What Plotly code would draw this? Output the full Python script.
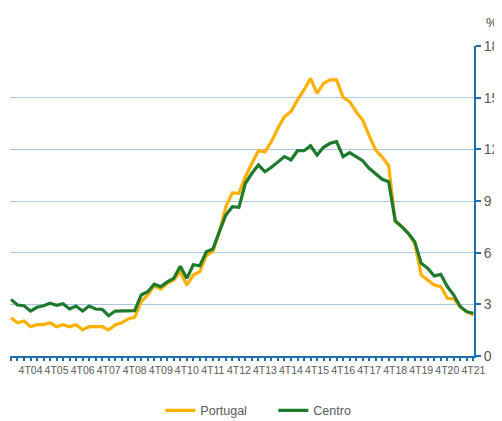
import plotly.graph_objects as go

# quarters 1T04 .. 4T21
years = [f"{y:02d}" for y in range(4, 22)]
quarters = [f"{q}T{y}" for y in years for q in range(1, 5)]

portugal = [2.22, 1.93, 2.03, 1.70, 1.82, 1.82, 1.93, 1.70, 1.82, 1.70,
            1.82, 1.53, 1.70, 1.70, 1.70, 1.51, 1.80, 1.93, 2.15, 2.25,
            3.15, 3.54, 4.07, 3.89, 4.22, 4.41, 4.90, 4.12, 4.70, 4.90,
            5.85, 6.06, 7.22, 8.67, 9.47, 9.45, 10.41, 11.19, 11.92, 11.85,
            12.45, 13.22, 13.90, 14.19, 14.87, 15.45, 16.12, 15.25, 15.83, 16.03,
            16.03, 15.02, 14.77, 14.19, 13.70, 12.80, 11.96, 11.55, 11.05, 7.80,
            7.51, 7.12, 6.54, 4.70, 4.41, 4.12, 4.03, 3.35, 3.31, 2.86,
            2.57, 2.38]

centro = [3.29, 2.96, 2.92, 2.61, 2.83, 2.92, 3.06, 2.94, 3.04, 2.73,
          2.90, 2.61, 2.90, 2.73, 2.71, 2.34, 2.61, 2.62, 2.63, 2.63,
          3.54, 3.73, 4.17, 4.02, 4.30, 4.51, 5.21, 4.51, 5.30, 5.24,
          6.05, 6.21, 7.22, 8.19, 8.67, 8.63, 10.03, 10.61, 11.09, 10.70,
          10.96, 11.29, 11.58, 11.38, 11.92, 11.92, 12.21, 11.67, 12.12, 12.35,
          12.45, 11.58, 11.81, 11.58, 11.34, 10.90, 10.57, 10.26, 10.12, 7.86,
          7.51, 7.12, 6.64, 5.38, 5.09, 4.65, 4.74, 4.03, 3.54, 2.86,
          2.57, 2.48]

y_ticks = [0, 3, 6, 9, 12, 15, 18]

# only the 4th quarters get a label, every quarter gets a tick
tick_text = [q if q.startswith("4T") else "" for q in quarters]

axis_blue = "#1F6EB0"
grid_blue = "#A9C8E4"
text_grey = "#595959"

fig = go.Figure()
fig.add_trace(go.Scatter(x=quarters, y=portugal, name="Portugal", mode="lines",
                         line=dict(color="#FFB000", width=3.2)))
fig.add_trace(go.Scatter(x=quarters, y=centro, name="Centro", mode="lines",
                         line=dict(color="#1E7A2C", width=3.2)))

# page body adds an 8px margin, so the figure is a bit smaller than the window
fig.update_layout(
    width=494, height=413,
    margin=dict(l=2, r=28, t=38, b=65, autoexpand=False),
    paper_bgcolor="white", plot_bgcolor="white",
    font=dict(family="Liberation Sans, Arial, sans-serif", color=text_grey),
    showlegend=True,
    legend=dict(orientation="h", x=0.324, xanchor="left", y=-0.128, yanchor="top",
                entrywidth=68, itemwidth=30,
                font=dict(size=12.5, color=text_grey)),
    xaxis=dict(
        type="category",
        range=[-0.15, 71.1],
        tickmode="array", tickvals=quarters, ticktext=tick_text,
        ticks="outside", ticklen=3, tickwidth=1.5, tickcolor=axis_blue,
        tickangle=0,
        tickfont=dict(size=10.5, color=text_grey),
        showline=True, linecolor=axis_blue, linewidth=2,
        showgrid=False, zeroline=False,
    ),
    yaxis=dict(
        side="right",
        range=[0, 18],
        tickvals=y_ticks,
        ticks="outside", ticklen=5, tickwidth=2, tickcolor=axis_blue,
        tickfont=dict(size=14, color=text_grey),
        showline=True, linecolor=axis_blue, linewidth=2,
        showgrid=True, gridcolor=grid_blue, gridwidth=1,
        zeroline=False,
    ),
)

fig.add_annotation(text="%", xref="paper", yref="paper", x=1.039, y=1.077,
                   xanchor="center", yanchor="middle",
                   showarrow=False, font=dict(size=13, color="#404040"))

fig.write_html("out.html")
